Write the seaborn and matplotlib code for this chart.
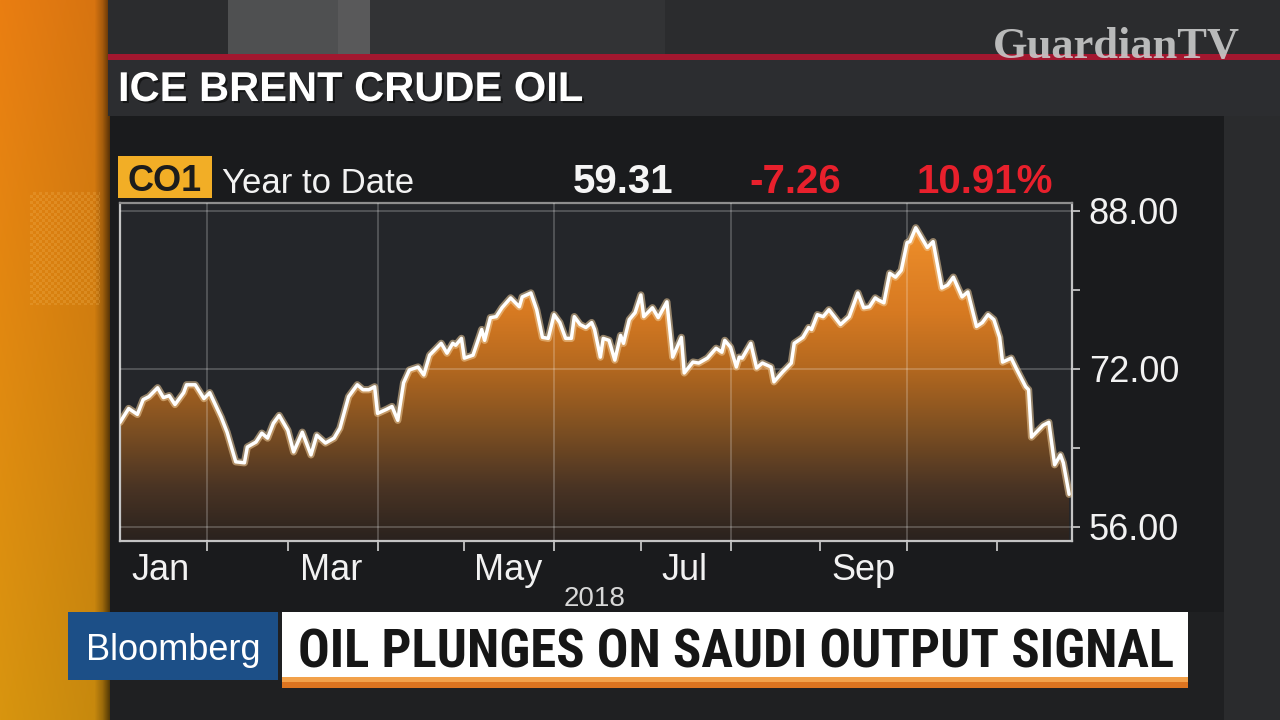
import numpy as np
import pandas as pd
import seaborn as sns
import matplotlib.pyplot as plt
import matplotlib.dates as mdates
import matplotlib.patheffects as pe
from matplotlib.colors import LinearSegmentedColormap, to_rgb
from matplotlib.patches import Rectangle
from matplotlib import font_manager

# ICE Brent front month (CO1), 2018 year to date
dates = [
    "2018-01-02", "2018-01-05", "2018-01-08", "2018-01-10", "2018-01-12", "2018-01-15", "2018-01-17",
    "2018-01-19", "2018-01-21", "2018-01-24", "2018-01-25", "2018-01-28", "2018-01-31",
    "2018-02-02", "2018-02-06", "2018-02-08", "2018-02-11", "2018-02-14", "2018-02-15", "2018-02-18",
    "2018-02-20", "2018-02-22", "2018-02-24", "2018-02-26",
    "2018-03-01", "2018-03-03", "2018-03-06", "2018-03-09", "2018-03-11", "2018-03-14", "2018-03-17",
    "2018-03-19", "2018-03-22", "2018-03-25", "2018-03-27", "2018-03-29", "2018-03-31",
    "2018-04-01", "2018-04-04", "2018-04-06", "2018-04-08", "2018-04-10", "2018-04-12", "2018-04-15",
    "2018-04-17", "2018-04-19", "2018-04-23", "2018-04-25", "2018-04-27", "2018-04-28", "2018-04-30",
    "2018-05-01", "2018-05-04", "2018-05-07", "2018-05-08", "2018-05-10", "2018-05-12", "2018-05-14",
    "2018-05-17", "2018-05-20", "2018-05-21", "2018-05-24", "2018-05-26", "2018-05-28", "2018-05-30",
    "2018-06-01", "2018-06-03", "2018-06-05", "2018-06-07", "2018-06-08", "2018-06-10", "2018-06-12",
    "2018-06-14", "2018-06-15", "2018-06-17", "2018-06-18", "2018-06-20", "2018-06-22", "2018-06-24",
    "2018-06-25", "2018-06-27", "2018-06-29",
    "2018-07-01", "2018-07-02", "2018-07-05", "2018-07-07", "2018-07-10", "2018-07-12", "2018-07-15",
    "2018-07-16", "2018-07-19", "2018-07-21", "2018-07-24", "2018-07-27", "2018-07-29", "2018-07-30",
    "2018-08-01", "2018-08-03", "2018-08-04", "2018-08-05", "2018-08-08", "2018-08-10", "2018-08-12",
    "2018-08-15", "2018-08-16", "2018-08-19", "2018-08-22", "2018-08-23", "2018-08-26", "2018-08-28",
    "2018-08-29", "2018-08-31",
    "2018-09-02", "2018-09-04", "2018-09-08", "2018-09-11", "2018-09-14", "2018-09-16", "2018-09-18",
    "2018-09-20", "2018-09-21", "2018-09-23", "2018-09-25", "2018-09-27", "2018-09-29",
    "2018-10-01", "2018-10-02", "2018-10-04", "2018-10-07", "2018-10-08", "2018-10-10", "2018-10-13",
    "2018-10-15", "2018-10-17", "2018-10-20", "2018-10-22", "2018-10-25", "2018-10-27", "2018-10-29",
    "2018-10-31",
    "2018-11-02", "2018-11-03", "2018-11-06", "2018-11-08", "2018-11-11", "2018-11-12", "2018-11-13",
    "2018-11-17", "2018-11-19", "2018-11-21", "2018-11-23", "2018-11-24", "2018-11-26",
]
prices = [
    66.6, 68.0, 67.4, 68.9, 69.2, 70.1, 69.1, 69.3, 68.4, 69.6, 70.4, 70.4, 69.0,
    69.6, 67.1, 65.6, 62.6, 62.5, 64.1, 64.6, 65.5, 65.0, 66.5, 67.3,
    65.8, 63.6, 65.6, 63.3, 65.3, 64.5, 65.0, 66.0, 69.2, 70.4, 69.9, 69.9, 70.2,
    67.5, 67.9, 68.2, 66.8, 70.6, 71.9, 72.2, 71.4, 73.4, 74.6, 73.6, 74.6, 74.4, 75.1,
    73.1, 73.4, 76.0, 74.9, 77.2, 77.3, 78.2, 79.2, 78.3, 79.3, 79.7, 78.0, 75.2, 75.1,
    77.5, 76.7, 75.1, 75.1, 77.3, 76.5, 76.2, 76.7, 76.0, 73.2, 75.1, 74.9, 72.9, 75.4, 74.6, 77.0, 77.7,
    79.5, 77.3, 78.2, 77.2, 78.8, 73.2, 75.2, 71.6, 72.7, 72.6, 73.1, 74.1, 73.7, 74.9,
    74.2, 72.2, 73.2, 73.1, 74.6, 72.1, 72.6, 72.2, 70.7, 71.7, 72.6, 74.6, 75.2, 76.2, 76.0, 77.5,
    77.3, 78.0, 76.5, 77.3, 79.7, 78.2, 78.3, 79.2, 79.0, 78.7, 81.7, 81.3, 82.0,
    84.8, 84.9, 86.3, 84.8, 84.3, 84.9, 80.2, 80.5, 81.3, 79.3, 79.8, 76.3, 76.7, 77.5, 77.0,
    75.2, 72.7, 73.1, 71.9, 70.2, 69.9, 65.1, 66.3, 66.6, 62.3, 63.3, 62.5, 59.31,
]

ticker = "CO1"
period = "Year to Date"
last_price = 59.31
net_change = -7.26
pct_change = 10.91

y_ticks = [56, 72, 88]
y_minor = [64, 80]
month_labels = ["Jan", "Mar", "May", "Jul", "Sep"]
label_dates = ["2018-01-16", "2018-03-16", "2018-05-16", "2018-07-16", "2018-09-16"]
tick_dates = ["2018-02-01", "2018-03-01", "2018-04-01", "2018-05-01", "2018-06-01",
              "2018-07-01", "2018-08-01", "2018-09-01", "2018-10-01", "2018-11-01"]
grid_dates = ["2018-02-01", "2018-04-01", "2018-06-01", "2018-08-01", "2018-10-01"]
year_label = "2018"
title = "ICE BRENT CRUDE OIL"
headline = "OIL PLUNGES ON SAUDI OUTPUT SIGNAL"
brand = "Bloomberg"
watermark = "GuardianTV"

df = pd.DataFrame({"date": pd.to_datetime(dates), "price": prices})

sns.set_theme(style="dark")
plt.rcParams["font.family"] = ["Liberation Sans", "DejaVu Sans"]


def narrow_bold():
    # look for a condensed bold face for the lower-third headline
    fonts = font_manager.fontManager.ttflist
    for wanted in ["Liberation Sans Narrow", "Roboto Condensed", "Open Sans Condensed",
                   "Noto Sans Condensed"]:
        for f in fonts:
            if f.name == wanted and str(f.weight) in ("bold", "700", "600", "semibold"):
                return font_manager.FontProperties(fname=f.fname)
    for f in fonts:
        if ("Condensed" in f.name or "Narrow" in f.name or f.stretch in ("condensed", "semi-condensed")) \
                and str(f.weight) in ("bold", "700") and "Mono" not in f.name and "Serif" not in f.name:
            return font_manager.FontProperties(fname=f.fname)
    return font_manager.FontProperties(family="Liberation Sans", weight="bold")


head_font = narrow_bold()

fig = plt.figure(figsize=(12.8, 7.2), dpi=100)
fig.patch.set_facecolor("#1e1f21")

# full-frame backdrop in pixel coordinates
bg = fig.add_axes([0, 0, 1, 1])
bg.set_xlim(0, 1280)
bg.set_ylim(720, 0)
bg.axis("off")


def box(x0, y0, x1, y1, color):
    bg.add_patch(Rectangle((x0, y0), x1 - x0, y1 - y0, facecolor=color, edgecolor="none", lw=0))


box(108, 0, 1280, 55, "#2b2c2e")
box(228, 0, 370, 55, "#4f5051")
box(338, 0, 370, 55, "#59595a")
box(370, 0, 665, 55, "#323335")
box(108, 54, 1280, 60, "#a3172f")
box(108, 60, 1280, 116, "#2c2d30")
box(110, 116, 1224, 612, "#1a1b1d")
box(1224, 116, 1280, 720, "#2a2b2d")
box(110, 612, 1224, 720, "#1f2022")

# orange side strip
h, w = 720, 118
t = (np.arange(h) / (h - 1))[:, None, None]
strip = np.array(to_rgb("#ea7e12")) * (1 - t) + np.array(to_rgb("#d8950f")) * t
strip = np.repeat(strip, w, axis=1)
shade = np.interp(np.arange(w), [0, 94, 102, 110, 117], [1.0, 0.92, 0.72, 0.35, 0.2])
strip = strip * shade[None, :, None]
dots = ((np.arange(192, 305)[:, None] // 3 + np.arange(30, 100)[None, :] // 3) % 2)[:, :, None]
strip[192:305, 30:100] = strip[192:305, 30:100] * (1 - 0.28 * dots) + np.array(to_rgb("#f0b050")) * 0.28 * dots
bg.imshow(np.clip(strip, 0, 1), extent=(0, w, h, 0), aspect="auto", zorder=0.5)

box(68, 612, 278, 680, "#1c4f87")
box(282, 612, 1188, 678, "#ffffff")
box(282, 677, 1188, 682, "#f2a14a")
box(282, 682, 1188, 688, "#dc7420")

shadow = [pe.withSimplePatchShadow(offset=(1.5, -1.5), shadow_rgbFace="black", alpha=0.5)]
bg.text(118, 101, title, color="white", fontsize=30, fontweight="bold", va="baseline",
        path_effects=shadow)
box(118, 156, 212, 198, "#f2ae26")
bg.text(165, 191, ticker, color="#1c1c1c", fontsize=26, fontweight="bold", ha="center", va="baseline")
bg.text(222, 193, period, color="#f2f2f2", fontsize=25, va="baseline")
bg.text(623, 193, f"{last_price:.2f}", color="#f5f5f5", fontsize=29, fontweight="bold",
        ha="center", va="baseline")
bg.text(795, 193, f"{net_change:.2f}", color="#e8202c", fontsize=29, fontweight="bold",
        ha="center", va="baseline")
bg.text(985, 193, f"{pct_change:.2f}%", color="#e8202c", fontsize=29, fontweight="bold",
        ha="center", va="baseline")
bg.text(595, 606, year_label, color="#d8d8d8", fontsize=20, ha="center", va="baseline")
bg.text(173, 660, brand, color="white", fontsize=26, ha="center", va="baseline")
head = bg.text(298, 667, headline, color="#161616", fontproperties=head_font, va="baseline")
head.set_fontsize(40)
mark = bg.text(1240, 58, watermark, color="#cacaca", alpha=0.9, fontsize=32, fontweight="bold",
               family="Liberation Serif", ha="right", va="baseline")

# main price panel
ax = fig.add_axes([120 / 1280, 1 - 541 / 720, 952 / 1280, 338 / 720])
ax.set_facecolor("#24262a")
ylo, yhi = 54.58, 88.81
x0 = mdates.date2num(pd.Timestamp("2018-01-02"))
x1 = mdates.date2num(pd.Timestamp("2018-11-27"))

sns.lineplot(data=df, x="date", y="price", ax=ax, color="white", linewidth=2.5, zorder=5)
ax.lines[0].set_path_effects([pe.Stroke(linewidth=5.2, foreground="#f2cf9c", alpha=0.55), pe.Normal()])

fill_cmap = LinearSegmentedColormap.from_list(
    "brent", [(0.0, "#2a221e"), (0.16, "#4a3424"), (0.33, "#7d4f22"), (0.51, "#b3681f"),
              (0.68, "#d77a22"), (0.92, "#ee8e2a"), (1.0, "#f39530")])
grad = np.linspace(ylo, yhi, 256).reshape(-1, 1)
im = ax.imshow(grad, extent=(x0, x1, ylo, yhi), origin="lower", aspect="auto",
               cmap=fill_cmap, vmin=ylo, vmax=yhi, zorder=1)
area = ax.fill_between(df["date"], df["price"], ylo, facecolor="none", edgecolor="none")
im.set_clip_path(area.get_paths()[0], ax.transData)

for d in grid_dates:
    ax.axvline(mdates.date2num(pd.Timestamp(d)), color="white", alpha=0.22, lw=1.3, zorder=3)
for v in y_ticks:
    ax.axhline(v, color="white", alpha=0.22, lw=1.3, zorder=3)

ax.set_xlim(x0, x1)
ax.set_ylim(ylo, yhi)
ax.set_xlabel("")
ax.set_ylabel("")
ax.grid(False)

for name, s in ax.spines.items():
    s.set_visible(True)
    s.set_linewidth(1.6)
    s.set_color("#8e8e8e" if name == "top" else "#c4c4c4")

ax.yaxis.tick_right()
ax.set_yticks(y_ticks, labels=[f"{v:.2f}" for v in y_ticks])
ax.set_yticks(y_minor, minor=True)
ax.tick_params(axis="y", which="both", direction="out", length=6, width=1.3, color="#c4c4c4",
               right=True, left=False, labelright=True, labelleft=False,
               labelsize=26, labelcolor="#f2f2f2", pad=6)

ax.set_xticks(mdates.date2num(pd.to_datetime(tick_dates)), labels=[])
ax.set_xticks(mdates.date2num(pd.to_datetime(label_dates)), labels=month_labels, minor=True)
ax.tick_params(axis="x", which="major", direction="out", bottom=True, length=7, width=1.3,
               color="#c4c4c4", labelbottom=False)
ax.tick_params(axis="x", which="minor", bottom=True, length=0, labelbottom=True,
               labelsize=26, labelcolor="#f2f2f2", pad=9)

# squeeze the headline and watermark into their boxes
fig.canvas.draw()
renderer = fig.canvas.get_renderer()
for txt, target in [(head, 874), (mark, 247)]:
    width = txt.get_window_extent(renderer).width
    txt.set_fontsize(txt.get_fontsize() * target / width)

fig.savefig("out.png", dpi=100, facecolor=fig.get_facecolor())
